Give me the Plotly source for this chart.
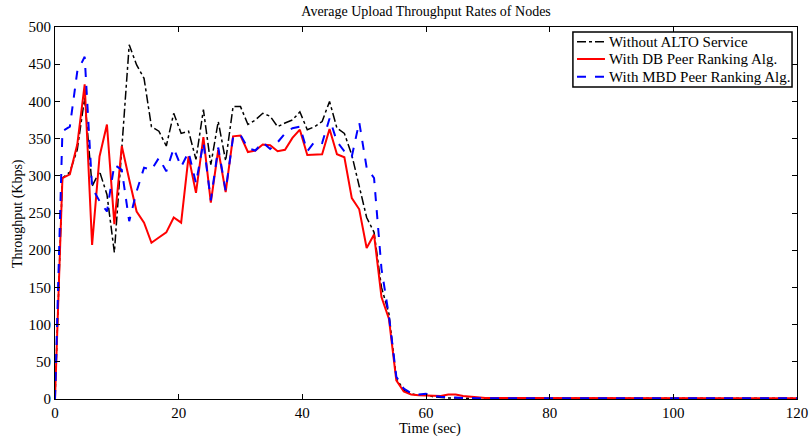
import plotly.graph_objects as go

# sampling grid (seconds): one sample every 1.2 s from 0 to 120
time = [round(1.2 * i, 1) for i in range(101)]

without_alto = [0, 297, 305, 335, 405, 286, 306, 275, 197, 333,
                476, 449, 431, 366, 360, 340, 384, 357, 360, 322,
                389, 315, 373, 320, 393, 393, 369, 375, 384, 380,
                366, 371, 375, 386, 362, 366, 373, 400, 364, 357,
                328, 286, 244, 224, 150, 115, 28, 12, 7, 5,
                6, 3, 2, 1.5, 1.5, 1, 1, 1, 1, 1,
                1, 1, 1, 1, 1, 1, 1, 1, 1, 1,
                1, 1, 1, 1, 1, 1, 1, 1, 1, 1,
                1, 1, 1, 1, 1, 1, 1, 1, 1, 1,
                1, 1, 1, 1, 1, 1, 1, 1, 1, 1, 1]

db_ranking = [0, 297, 302, 342, 423, 207, 326, 369, 235, 340,
              295, 252, 237, 210, 217, 224, 244, 237, 326, 277,
              352, 264, 335, 278, 353, 354, 332, 334, 342, 341,
              333, 335, 351, 362, 328, 328, 329, 363, 329, 325,
              270, 255, 203, 221, 137, 108, 25, 10, 6, 5,
              5, 4, 4, 6, 6, 4, 3, 2, 1.5, 1.5,
              1.5, 1.5, 1.5, 1.5, 1.5, 1.5, 1.5, 1.5, 1.5, 1.5,
              1.5, 1.5, 1.5, 1.5, 1.5, 1.5, 1.5, 1.5, 1.5, 1.5,
              1.5, 1.5, 1.5, 1.5, 1.5, 1.5, 1.5, 1.5, 1.5, 1.5,
              1.5, 1.5, 1.5, 1.5, 1.5, 1.5, 1.5, 1.5, 1.5, 1.5, 1]

mbd_ranking = [0, 360, 366, 440, 460, 284, 266, 252, 315, 308,
               239, 279, 311, 308, 324, 306, 337, 312, 332, 290,
               345, 267, 338, 280, 352, 355, 337, 334, 345, 336,
               345, 357, 364, 366, 333, 346, 344, 377, 346, 333,
               326, 372, 311, 297, 175, 112, 30, 14, 8, 6,
               7, 4, 3, 3, 2, 1.5, 1, 1, 1, 1,
               1, 1, 1, 1, 1, 1, 1, 1, 1, 1,
               1, 1, 1, 1, 1, 1, 1, 1, 1, 1,
               1, 1, 1, 1, 1, 1, 1, 1, 1, 1,
               1, 1, 1, 1, 1, 1, 1, 1, 1, 1, 1]

series_names = ["Without ALTO Service", "With DB Peer Ranking Alg.",
                "With MBD Peer Ranking Alg."]
series_colors = ["black", "red", "blue"]
series_dash = ["dashdot", "solid", "dash"]
series_width = [1.5, 2, 2]

x_ticks = [0, 20, 40, 60, 80, 100, 120]
y_ticks = [0, 50, 100, 150, 200, 250, 300, 350, 400, 450, 500]

FONT = "Liberation Serif, Times New Roman, serif"

fig = go.Figure()
for name, ys, c, d, w in zip(series_names,
                             [without_alto, db_ranking, mbd_ranking],
                             series_colors, series_dash, series_width):
    fig.add_trace(go.Scatter(x=time, y=ys, mode="lines", name=name,
                             showlegend=False,
                             line=dict(color=c, width=w, dash=d)))

axis_common = dict(showgrid=False, zeroline=False, showline=True,
                   linecolor="black", linewidth=1, mirror="ticks",
                   ticks="inside", ticklen=5, tickcolor="black",
                   automargin=False,
                   tickfont=dict(family=FONT, size=15, color="black"))

fig.update_xaxes(range=[0, 120], tickvals=x_ticks, ticklabelstandoff=0, **axis_common)
fig.update_yaxes(range=[0, 500], tickvals=y_ticks, **axis_common)

annotations = [
    dict(text="Time (sec)", xref="paper", yref="paper", x=0.5055, y=-0.079,
         xanchor="center", yanchor="middle", showarrow=False,
         font=dict(family=FONT, size=14.5, color="black")),
    dict(text="Throughput (Kbps)", xref="paper", yref="paper", x=-0.0499, y=0.5,
         xanchor="center", yanchor="middle", textangle=-90, showarrow=False,
         font=dict(family=FONT, size=14, color="black")),
]

# legend box drawn manually to match the compact original legend
shapes = [dict(type="rect", xref="paper", yref="paper",
               x0=0.698, x1=0.9933, y0=0.8387, y1=0.9866,
               line=dict(color="black", width=1.5), fillcolor="white", layer="above")]
row_y = [0.9605, 0.914, 0.8664]
for name, c, d, w, ry in zip(series_names, series_colors, series_dash, series_width, row_y):
    shapes.append(dict(type="line", xref="paper", yref="paper",
                       x0=0.7035, x1=0.7412, y0=ry, y1=ry, layer="above",
                       line=dict(color=c, width=w, dash=d)))
    annotations.append(dict(text=name, xref="paper", yref="paper", x=0.744, y=ry,
                            xanchor="left", yanchor="middle", showarrow=False,
                            font=dict(family=FONT, size=15, color="black")))

fig.update_layout(
    width=810, height=437,
    margin=dict(l=55, r=13, t=27, b=38),
    paper_bgcolor="white", plot_bgcolor="white",
    font=dict(family=FONT, size=13, color="black"),
    title=dict(text="Average Upload Throughput Rates of Nodes",
               x=0.526, xanchor="center", y=0.985, yanchor="top",
               font=dict(family=FONT, size=14, color="black")),
    shapes=shapes,
    annotations=annotations,
    showlegend=False,
)

fig.write_html("out.html")
